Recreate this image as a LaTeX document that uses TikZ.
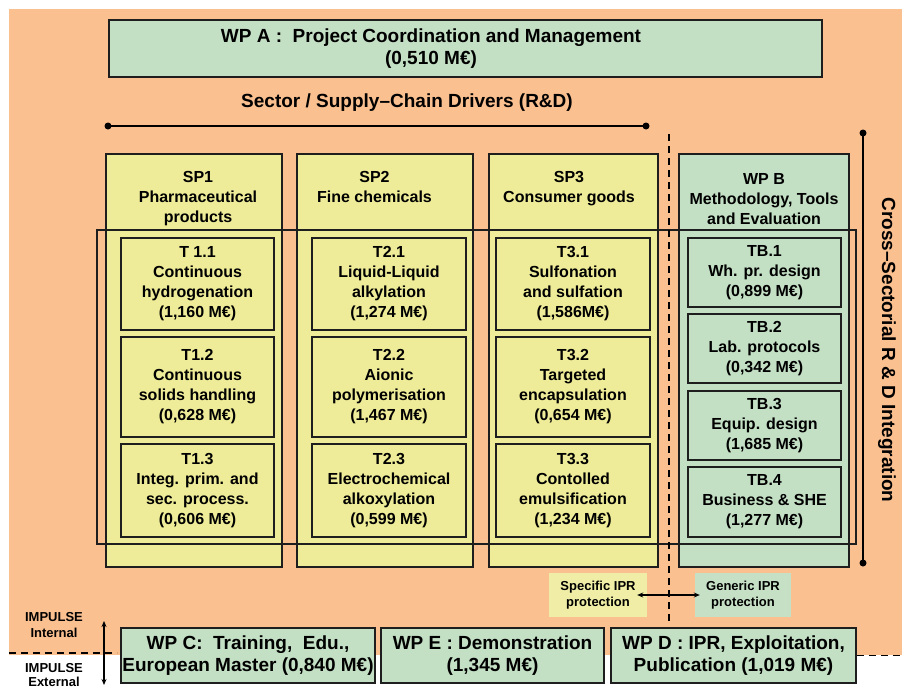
\documentclass[tikz,border=0pt]{standalone}
\usepackage{fontspec}
\setmainfont{Liberation Sans}
\usetikzlibrary{positioning,arrows.meta}

\definecolor{bgorange}{RGB}{250,192,144}
\definecolor{wpgreen}{RGB}{195,223,196}
\definecolor{spyellow}{RGB}{238,236,152}
\definecolor{iprgreen}{RGB}{198,224,198}
\definecolor{ipryellow}{RGB}{240,238,166}
\definecolor{edge}{RGB}{30,30,30}

\tikzset{
  box/.style={draw=edge, line width=1.5pt, inner sep=0pt, align=center,
    font=\bfseries\fontsize{16}{20}\selectfont},
  spcol/.style={box, fill=spyellow},
  wpcol/.style={box, fill=wpgreen},
  task/.style={box, fill=spyellow, minimum width=154pt},
  tbtask/.style={box, fill=wpgreen, minimum width=153pt},
  wpbig/.style={box, fill=wpgreen, font=\bfseries\fontsize{19}{21.5}\selectfont},
  wptitle/.style={inner sep=0pt, align=center, font=\bfseries\fontsize{19}{22}\selectfont},
  header/.style={inner sep=0pt, align=center, anchor=north,
    font=\bfseries\fontsize{16}{20}\selectfont},
  ipr/.style={inner sep=0pt, align=center, font=\bfseries\fontsize{13}{16}\selectfont},
  divider/.style={line width=1.5pt, dash pattern=on 7pt off 5pt},
  tip/.style={line width=1.2pt, {Stealth[length=6pt,width=5pt]}-{Stealth[length=6pt,width=5pt]}},
}

\begin{document}
\begin{tikzpicture}[x=1pt, y=-1pt]
    \useasboundingbox (0,0) rectangle (902,688);
    \fill[white] (0,0) rectangle (902,688);
    % Internal project area
    \fill[bgorange] (9,9) rectangle (902,655);

    % Coordination package on top
    \node[wpbig, minimum width=713pt, minimum height=57pt] (wpa) at (465.5,48.5) {};
    \node[wptitle] (wpalabel) at (431,49) {WP A :\ \ Project Coordination and Management\\(0,510 M€)};
    \node[wptitle] (drivers) at (407,103) {Sector / Supply–Chain Drivers (R\&D)};

    % Span of the sector drivers
    \coordinate (drvL) at (108,126);
    \coordinate (drvR) at (646,126);
    \draw[line width=2.2pt] (drvL) -- (drvR);
    \fill (drvL) circle (3.5pt) (drvR) circle (3.5pt);

    % Sector columns and WP B
    \node[spcol, minimum width=176pt, minimum height=413pt] (sp1) at (194,360.5) {};
    \node[spcol, minimum width=176pt, minimum height=413pt] (sp2) at (385,360.5) {};
    \node[spcol, minimum width=169pt, minimum height=413pt] (sp3) at (573.5,360.5) {};
    \node[wpcol, minimum width=170pt, minimum height=413pt] (wpb) at (764,360.5) {};
    \node[header] (sp1head) at (198,171) {SP1\\Pharmaceutical\\products};
    \node[header] (sp2head) at (374.5,171) {SP2\\Fine chemicals};
    \node[header] (sp3head) at (569,171) {SP3\\Consumer goods};
    \node[header] (wpbhead) at (764,173) {WP B\\Methodology, Tools\\and Evaluation};

    % Frame round all the R&D tasks
    \node[draw=edge, line width=1.6pt, minimum width=759pt, minimum height=314pt] (frame) at (476.5,387) {};

    % SP1 tasks
    \node[task, minimum width=153pt, minimum height=92pt] (t11) at (197.5,284) {T 1.1\\Continuous\\hydrogenation\\(1,160 M€)};
    \node[task, minimum width=153pt, minimum height=100pt] (t12) at (197.5,387) {T1.2\\Continuous\\solids handling\\(0,628 M€)};
    \node[task, minimum width=153pt, minimum height=93pt] (t13) at (197.5,490.5) {T1.3\\Integ. prim. and\\sec. process.\\(0,606 M€)};

    % SP2 tasks
    \node[task, minimum height=92pt] (t21) at (389,284) {T2.1\\Liquid-Liquid\\alkylation\\(1,274 M€)};
    \node[task, minimum height=100pt] (t22) at (389,387) {T2.2\\Aionic\\polymerisation\\(1,467 M€)};
    \node[task, minimum height=93pt] (t23) at (389,490.5) {T2.3\\Electrochemical\\alkoxylation\\(0,599 M€)};

    % SP3 tasks
    \node[task, minimum height=92pt] (t31) at (573,284) {T3.1\\Sulfonation\\and sulfation\\(1,586M€)};
    \node[task, minimum height=100pt] (t32) at (573,387) {T3.2\\Targeted\\encapsulation\\(0,654 M€)};
    \node[task, minimum height=93pt] (t33) at (573,490.5) {T3.3\\Contolled\\emulsification\\(1,234 M€)};

    % WP B tasks
    \node[tbtask, minimum height=69pt] (tb1) at (764.5,272.5) {TB.1\\Wh. pr. design\\(0,899 M€)};
    \node[tbtask, minimum height=69pt] (tb2) at (764.5,348.5) {TB.2\\Lab. protocols\\(0,342 M€)};
    \node[tbtask, minimum height=69pt] (tb3) at (764.5,425.5) {TB.3\\Equip. design\\(1,685 M€)};
    \node[tbtask, minimum height=70pt] (tb4) at (764.5,502) {TB.4\\Business \& SHE\\(1,277 M€)};

    % Cross-sectorial integration
    \coordinate (intTop) at (863,133);
    \coordinate (intBot) at (863,563);
    \draw[line width=1.6pt] (intTop) -- (intBot);
    \fill (intTop) circle (3.5pt) (intBot) circle (3.5pt);
    \node[wptitle, rotate=-90] (crosslabel) at (887,350) {Cross–Sectorial R \& D Integration};

    % Sector / generic divider
    \coordinate (divTop) at (669,134);
    \coordinate (divBot) at (669,623);
    \draw[divider] (divTop) -- (divBot);

    % IPR protection
    \node[ipr, fill=ipryellow, minimum width=98pt, minimum height=44pt] (specipr) at (598,595) {Specific IPR\\protection};
    \node[ipr, fill=iprgreen, minimum width=96pt, minimum height=44pt] (genipr) at (743,595) {Generic IPR\\protection};
    \draw[tip, shorten <=-10pt, shorten >=-5pt] (specipr.east) -- (genipr.west);

    % Internal / external line
    \coordinate (extL) at (9,653);
    \coordinate (extLend) at (117,653);
    \coordinate (extR) at (902,655.5);
    \draw[divider] (extL) -- (extLend);

    % Bottom work packages
    \node[wpbig, minimum width=254pt, minimum height=55pt] (wpc) at (248,655.5) {WP C:\ \ Training,\ \ Edu.,\\European Master (0,840 M€)};
    \node[wpbig, minimum width=223pt, minimum height=55pt] (wpe) at (492.5,655.5) {WP E : Demonstration\\(1,345 M€)};
    \node[wpbig, minimum width=245pt, minimum height=55pt] (wpd) at (733.5,655.5) {WP D : IPR, Exploitation,\\Publication (1,019 M€)};
    \draw[divider] (wpd.east) -- (extR);

    % IMPULSE internal / external
    \node[ipr] (impint) at (54,625) {IMPULSE\\Internal};
    \node[ipr, font=\bfseries\fontsize{13}{14}\selectfont] (impext) at (54,675) {IMPULSE\\External};
    \coordinate (impUp) at (104,621);
    \coordinate (impDown) at (104,685);
    \draw[tip] (impUp) -- (impDown);
\end{tikzpicture}
\end{document}
